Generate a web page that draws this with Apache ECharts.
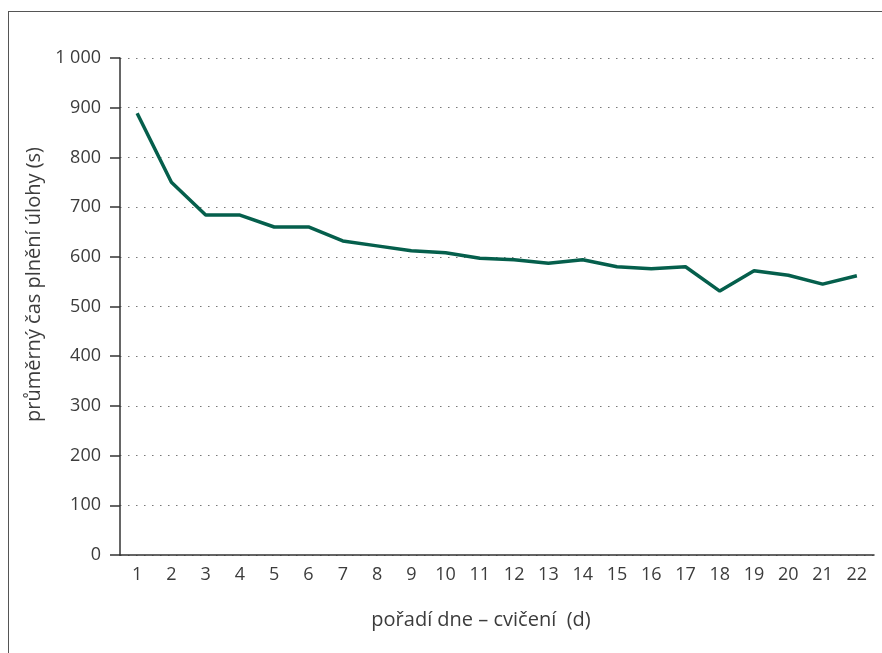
<!DOCTYPE html>
<html>
<head>
<meta charset="utf-8">
<script src="https://cdn.jsdelivr.net/npm/echarts@6/dist/echarts.min.js"></script>
<style>
html,body{margin:0;padding:0;background:#fff;}
#frame{position:absolute;left:8px;top:11px;width:900px;height:700px;border-left:1.5px solid #555;border-top:1.5px solid #555;}
#main{position:absolute;left:0;top:0;width:882px;height:653px;}
</style>
</head>
<body>
<div id="frame"></div>
<div id="main"></div>
<script>
const days = ['1','2','3','4','5','6','7','8','9','10','11','12','13','14','15','16','17','18','19','20','21','22'];
const avgTime = [889,750,684,684,660,660,632,622,612,608,597,594,587,594,580,576,580,531,572,563,545,562];
const yTicks = {min:0, max:1000, interval:100};
const xName = 'pořadí dne – cvičení  (d)';
const yName = 'průměrný čas plnění úlohy (s)';

const chart = echarts.init(document.getElementById('main'));
const textColor = '#3c3c3c';
const font = 'Open Sans';
chart.setOption({
  animation:false,
  grid:{left:120, right:8, top:58, bottom:98, containLabel:false},
  xAxis:{
    type:'category', data:days, boundaryGap:true,
    name:xName, nameLocation:'middle', nameGap:55,
    nameTextStyle:{color:textColor, fontSize:20, fontFamily:font, fontWeight:'normal', padding:[0,32,0,0]},
    axisLine:{lineStyle:{color:'#333', width:1.5}},
    axisTick:{show:false},
    axisLabel:{color:textColor, fontSize:18, fontFamily:font, fontWeight:'normal', margin:11},
    splitLine:{show:false}
  },
  yAxis:{
    type:'value', min:yTicks.min, max:yTicks.max, interval:yTicks.interval,
    name:yName, nameLocation:'middle', nameGap:72,
    nameTextStyle:{color:textColor, fontSize:20, fontFamily:font, fontWeight:'normal', padding:[0,0,0,44]},
    axisLine:{show:true, lineStyle:{color:'#333', width:1.5}},
    axisTick:{show:true, length:10, lineStyle:{color:'#333', width:1.5}},
    axisLabel:{color:textColor, fontSize:18, fontFamily:font, fontWeight:'normal', margin:19,
      formatter:v=> v>=1000 ? String(v).replace(/\B(?=(\d{3})+(?!\d))/g,' ') : String(v)},
    splitLine:{show:true, lineStyle:{color:'#777', width:1.2, type:[1.5,6.5], dashOffset:-8}}
  },
  series:[{
    type:'line', data:avgTime, symbol:'none',
    lineStyle:{color:'#055f4c', width:3.5},
    itemStyle:{color:'#055f4c'}
  }]
});
</script>
</body>
</html>
